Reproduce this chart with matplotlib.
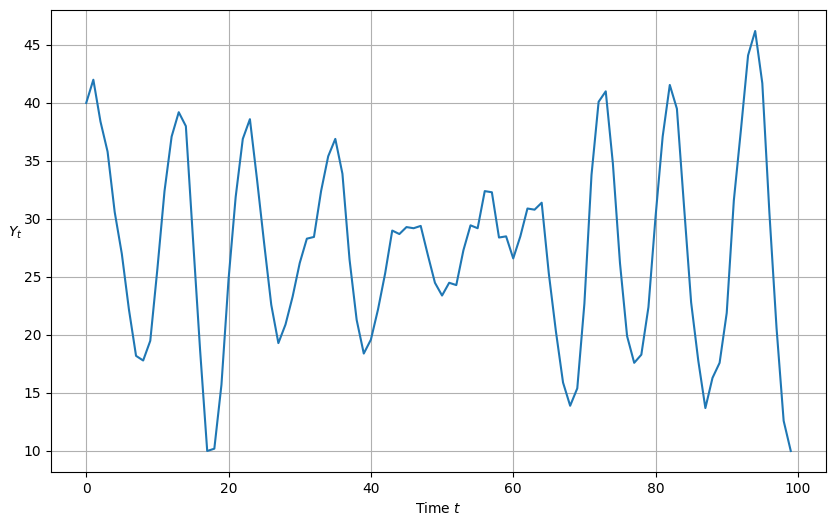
import matplotlib
matplotlib.use("Agg")
import matplotlib.pyplot as plt
import numpy as np

t = list(range(100))
Y = [40.0, 42.0, 38.4, 35.8, 30.6, 27.0, 22.2, 18.2, 17.8, 19.5,
     25.7, 32.4, 37.1, 39.2, 38.0, 28.3, 18.7, 10.0, 10.2, 15.7,
     24.8, 31.9, 36.9, 38.6, 33.4, 27.9, 22.6, 19.3, 20.9, 23.3,
     26.2, 28.3, 28.45, 32.4, 35.4, 36.9, 33.9, 26.5, 21.3, 18.4,
     19.6, 22.2, 25.3, 29.0, 28.7, 29.3, 29.2, 29.4, 26.9, 24.5,
     23.4, 24.5, 24.3, 27.3, 29.45, 29.2, 32.4, 32.3, 28.4, 28.5,
     26.6, 28.5, 30.9, 30.8, 31.4, 25.3, 20.3, 15.9, 13.9, 15.4,
     22.7, 33.8, 40.1, 41.0, 34.8, 26.2, 19.9, 17.6, 18.3, 22.4,
     30.2, 37.1, 41.55, 39.5, 31.1, 22.8, 17.8, 13.7, 16.3, 17.6,
     21.9, 31.6, 37.7, 44.1, 46.2, 41.7, 30.5, 20.6, 12.6, 10.0]

fig = plt.figure(figsize=(8.35, 5.26), dpi=100)
ax = fig.add_axes([51/835, 1-472/526, (826-51)/835, (472-10)/526])
ax.plot(t, Y, color='#1f77b4', linewidth=1.5)
ax.set_xlabel('Time $t$')
ax.set_ylabel('$Y_t$', rotation=0, labelpad=6)
ax.grid(True)
fig.savefig('out.png', dpi=100)
